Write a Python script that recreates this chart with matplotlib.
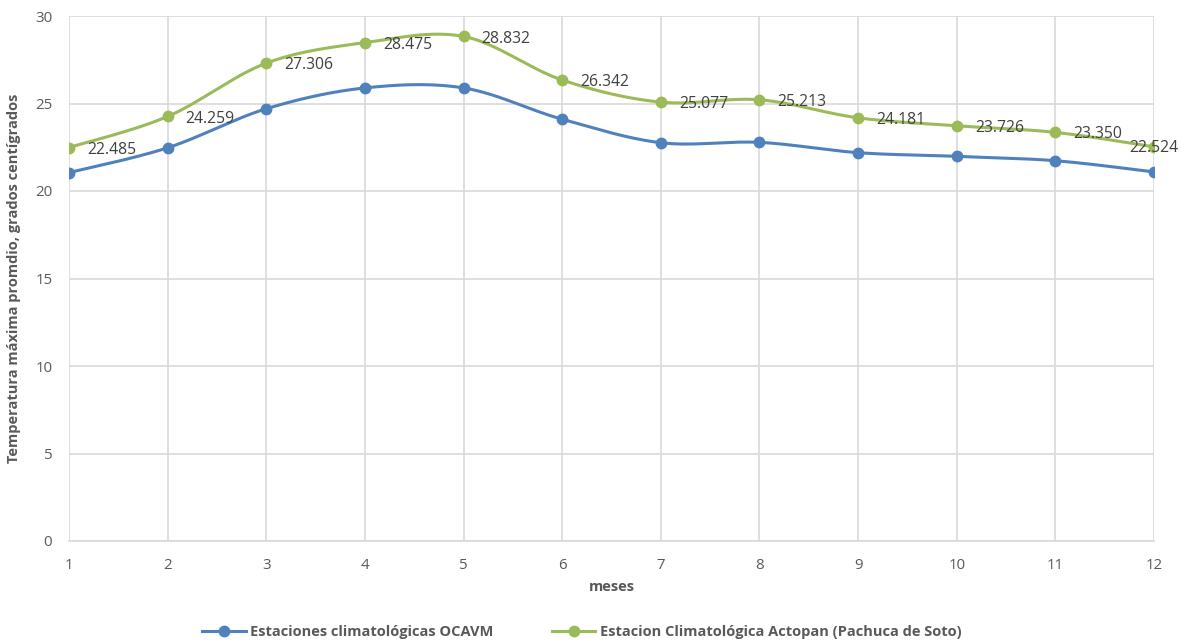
import numpy as np
import matplotlib.pyplot as plt

meses = [1, 2, 3, 4, 5, 6, 7, 8, 9, 10, 11, 12]
ocavm = [21.05, 22.47, 24.70, 25.89, 25.89, 24.10, 22.76, 22.78, 22.19, 21.98, 21.73, 21.09]
actopan = [22.485, 24.259, 27.306, 28.475, 28.832, 26.342, 25.077, 25.213, 24.181, 23.726, 23.350, 22.524]

BLUE = '#4F81BD'
GREEN = '#9BBB59'
TEXT = '#595959'
GRID = '#D9D9D9'


def smooth(x, y, n=30):
    """Catmull-Rom style curve through the points (like a smoothed line chart)."""
    x = np.asarray(x, float)
    y = np.asarray(y, float)
    px = np.concatenate([[x[0]], x, [x[-1]]])
    py = np.concatenate([[y[0]], y, [y[-1]]])
    xs, ys = [], []
    t = np.linspace(0, 1, n)
    for i in range(1, len(px) - 2):
        p0, p1, p2, p3 = (np.array([px[j], py[j]]) for j in range(i - 1, i + 3))
        c1 = p1 + (p2 - p0) / 6
        c2 = p2 - (p3 - p1) / 6
        b = ((1 - t) ** 3)[:, None] * p1 + (3 * (1 - t) ** 2 * t)[:, None] * c1 \
            + (3 * (1 - t) * t ** 2)[:, None] * c2 + (t ** 3)[:, None] * p2
        xs.extend(b[:, 0])
        ys.extend(b[:, 1])
    return xs, ys


plt.rcParams['font.family'] = ['Open Sans', 'DejaVu Sans']

fig = plt.figure(figsize=(11.87, 6.44), dpi=100)
ax = fig.add_axes([69 / 1187, 1 - 541 / 644, (1154 - 69) / 1187, (541 - 16) / 644])

for vals, col, name in [(ocavm, BLUE, 'Estaciones climatológicas OCAVM'),
                        (actopan, GREEN, 'Estacion Climatológica Actopan (Pachuca de Soto)')]:
    sx, sy = smooth(meses, vals)
    ax.plot(sx, sy, color=col, lw=2.2, zorder=3, solid_capstyle='round')
    ax.plot(meses, vals, 'o', color=col, ms=7.5, zorder=4)
    ax.plot([], [], '-o', color=col, lw=2.2, ms=7.5, label=name)

for i, (m, v) in enumerate(zip(meses, actopan)):
    if i == len(meses) - 1:
        ax.annotate(f'{v:.3f}', (m, v), xytext=(0, -1), textcoords='offset points',
                    ha='center', va='center', fontsize=11.3, color='#404040', zorder=5)
    else:
        ax.annotate(f'{v:.3f}', (m, v), xytext=(13, -1.5), textcoords='offset points',
                    ha='left', va='center', fontsize=11.3, color='#404040', zorder=5)

ax.set_xlim(1, 12)
ax.set_ylim(0, 30)
ax.set_xticks(meses)
ax.set_yticks(range(0, 31, 5))
ax.grid(True, color=GRID, lw=1.2)
ax.set_axisbelow(True)
for s in ['top', 'right', 'left']:
    ax.spines[s].set_visible(False)
ax.spines['bottom'].set_color(GRID)
ax.spines['bottom'].set_linewidth(1.2)
ax.tick_params(length=0, colors=TEXT, labelsize=10.8)
ax.tick_params(axis='x', pad=12)
ax.tick_params(axis='y', pad=12)

ax.set_xlabel('meses', fontsize=10.5, fontweight='bold', color=TEXT, labelpad=5)
ax.set_ylabel('Temperatura máxima promdio, grados centígrados', fontsize=10.5,
              fontweight='bold', color=TEXT, labelpad=10)

fig.legend(loc='center', bbox_to_anchor=(0.49, 1 - 632 / 644), ncol=2, frameon=False,
           handlelength=3, columnspacing=4, labelcolor=TEXT,
           prop={'weight': 'bold', 'size': 10.5}, handletextpad=0.3)

fig.savefig('out.png', dpi=100)
